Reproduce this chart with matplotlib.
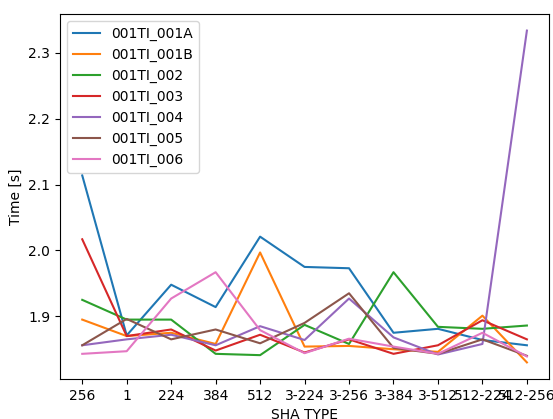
import matplotlib
matplotlib.use('Agg')
import matplotlib.pyplot as plt

# SHA 类型
sha_types = ['256', '1', '224', '384', '512', '3-224', '3-256', '3-384', '3-512', '512-224', '512-256']

t_001A = [2.114, 1.871, 1.948, 1.914, 2.021, 1.975, 1.973, 1.875, 1.881, 1.864, 1.856]
t_001B = [1.895, 1.870, 1.875, 1.858, 1.997, 1.854, 1.855, 1.850, 1.846, 1.901, 1.830]
t_002 = [1.925, 1.895, 1.895, 1.843, 1.841, 1.887, 1.858, 1.967, 1.884, 1.881, 1.886]
t_003 = [2.017, 1.870, 1.880, 1.848, 1.872, 1.845, 1.865, 1.843, 1.856, 1.894, 1.865]
t_004 = [1.856, 1.865, 1.872, 1.856, 1.885, 1.864, 1.927, 1.868, 1.842, 1.858, 2.334]
t_005 = [1.856, 1.896, 1.865, 1.880, 1.859, 1.890, 1.935, 1.852, 1.843, 1.865, 1.840]
t_006 = [1.843, 1.847, 1.927, 1.967, 1.879, 1.844, 1.866, 1.854, 1.843, 1.875, 1.839]

series = [('001TI_001A', t_001A), ('001TI_001B', t_001B), ('001TI_002', t_002),
          ('001TI_003', t_003), ('001TI_004', t_004), ('001TI_005', t_005),
          ('001TI_006', t_006)]

fig, ax = plt.subplots(figsize=(5.53, 4.19), dpi=100)
for name, vals in series:
    ax.plot(sha_types, vals, label=name)

ax.set_xlabel('SHA TYPE')
ax.set_ylabel('Time [s]')
ax.legend(loc='upper left')
plt.subplots_adjust(left=0.1085, right=0.993, top=0.9666, bottom=0.0955)
plt.savefig('out.png')
